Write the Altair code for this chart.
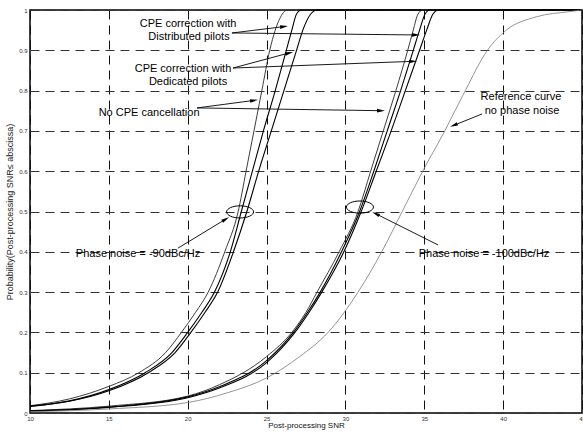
import math
import altair as alt
import pandas as pd

# ---------------- data ----------------
# Phase noise = -90 dBc/Hz
snr_nocpe_90 = [10, 12.5, 15, 16.9, 18.6, 19.6, 20.5, 21.3, 22.35, 23.2, 23.7, 24.2, 24.7, 25.2, 25.55, 26.0, 26.3, 45]
p_nocpe_90 = [0.018, 0.035, 0.066, 0.1, 0.15, 0.2, 0.25, 0.3, 0.4, 0.5, 0.6, 0.7, 0.8, 0.9, 0.95, 0.99, 1.0, 1.0]

snr_dist_90 = [10, 12.5, 15, 17.3, 19.0, 20.0, 20.9, 21.7, 22.7, 23.4, 24.1, 24.8, 25.55, 26.25, 26.6, 26.9, 27.2, 45]
p_dist_90 = [0.017, 0.03, 0.058, 0.1, 0.15, 0.2, 0.25, 0.3, 0.4, 0.5, 0.6, 0.7, 0.8, 0.9, 0.95, 0.99, 1.0, 1.0]

snr_ded_90 = [10, 12.5, 15, 17.5, 19.2, 20.2, 21.1, 21.9, 22.9, 23.75, 24.5, 25.3, 26.1, 26.9, 27.3, 27.8, 28.2, 45]
p_ded_90 = [0.016, 0.029, 0.055, 0.1, 0.15, 0.2, 0.25, 0.3, 0.4, 0.5, 0.6, 0.7, 0.8, 0.9, 0.95, 0.99, 1.0, 1.0]

# Phase noise = -100 dBc/Hz
snr_nocpe_100 = [10, 15, 20, 22, 25, 26.6, 27.5, 28.2, 29.6, 30.8, 31.6, 32.4, 33.2, 33.95, 34.3, 34.6, 34.9, 45]
p_nocpe_100 = [0.006, 0.017, 0.042, 0.07, 0.14, 0.2, 0.25, 0.3, 0.4, 0.5, 0.6, 0.7, 0.8, 0.9, 0.95, 0.99, 1.0, 1.0]

snr_dist_100 = [10, 15, 20, 22, 25, 26.7, 27.6, 28.4, 29.75, 30.9, 31.8, 32.65, 33.5, 34.3, 34.7, 35.05, 35.35, 45]
p_dist_100 = [0.005, 0.015, 0.04, 0.065, 0.13, 0.2, 0.25, 0.3, 0.4, 0.5, 0.6, 0.7, 0.8, 0.9, 0.95, 0.99, 1.0, 1.0]

snr_ded_100 = [10, 15, 20, 22, 25, 26.8, 27.7, 28.5, 29.9, 31.0, 31.95, 32.9, 33.8, 34.7, 35.15, 35.55, 35.9, 45]
p_ded_100 = [0.005, 0.014, 0.038, 0.062, 0.125, 0.2, 0.25, 0.3, 0.4, 0.5, 0.6, 0.7, 0.8, 0.9, 0.95, 0.99, 1.0, 1.0]

# Reference curve, no phase noise
snr_ref = [10, 15, 20, 22.5, 25, 27.1, 28.9, 30.8, 32.3, 33.6, 34.9, 36.3, 37.6, 39.0, 40.2, 42.1, 44.2, 45]
p_ref = [0.003, 0.01, 0.026, 0.05, 0.087, 0.14, 0.2, 0.3, 0.4, 0.5, 0.6, 0.7, 0.8, 0.9, 0.95, 0.983, 0.996, 1.0]

x_ticks = [10, 15, 20, 25, 30, 35, 40, 45]
y_ticks = [0, 0.1, 0.2, 0.3, 0.4, 0.5, 0.6, 0.7, 0.8, 0.9, 1.0]

# annotation texts (data coordinates)
label_text = ["CPE correction with", "Distributed pilots", "CPE correction with", "Dedicated pilots",
              "No CPE cancellation", "Reference curve", "no phase noise",
              "Phase noise = -90dBc/Hz", "Phase noise = -100dBc/Hz"]
label_x = [20.02, 20.08, 19.70, 20.02, 17.55, 41.13, 41.2, 16.85, 38.79]
label_y = [0.965, 0.933, 0.854, 0.821, 0.744, 0.784, 0.749, 0.395, 0.395]

# arrows: start -> tip (data coordinates)
arrow_x1 = [22.81, 22.81, 22.87, 22.87, 20.59, 20.59, 38.66, 19.38, 35.87]
arrow_y1 = [0.943, 0.943, 0.856, 0.856, 0.757, 0.757, 0.742, 0.409, 0.417]
arrow_x2 = [26.36, 34.73, 26.68, 34.54, 24.46, 32.51, 36.63, 22.62, 31.69]
arrow_y2 = [0.960, 0.938, 0.896, 0.873, 0.777, 0.750, 0.710, 0.486, 0.499]

# ellipses marking the -90 / -100 groups
ell_x = [23.32, 30.92]
ell_y = [0.499, 0.511]

# ---------------- tables ----------------
W, H = 552, 403
XMIN, XMAX = 10, 45
px_x = W / (XMAX - XMIN)
px_y = H / 1.0

curves = [
    ("nocpe90", snr_nocpe_90, p_nocpe_90, "thin"),
    ("dist90", snr_dist_90, p_dist_90, "black"),
    ("ded90", snr_ded_90, p_ded_90, "black"),
    ("nocpe100", snr_nocpe_100, p_nocpe_100, "thin"),
    ("dist100", snr_dist_100, p_dist_100, "black"),
    ("ded100", snr_ded_100, p_ded_100, "black"),
    ("ref", snr_ref, p_ref, "ref"),
]
rows = []
for name, xs, ys, style in curves:
    for i, (x, y) in enumerate(zip(xs, ys)):
        rows.append({"series": name, "style": style, "snr": x, "prob": y, "ord": i})
df = pd.DataFrame(rows)

df_lab = pd.DataFrame({"x": label_x, "y": label_y, "t": label_text})

arows = []
for x1, y1, x2, y2 in zip(arrow_x1, arrow_y1, arrow_x2, arrow_y2):
    dx = (x2 - x1) * px_x
    dy = -(y2 - y1) * px_y
    L = math.hypot(dx, dy)
    ang = math.degrees(math.atan2(dy, dx)) % 360
    hx = x2 - (dx / L) * 4 / px_x
    hy = y2 + (dy / L) * 4 / px_y
    arows.append({"x1": x1, "y1": y1, "x2": x2, "y2": y2, "hx": hx, "hy": hy, "ang": ang})
df_arr = pd.DataFrame(arows)
df_ell = pd.DataFrame({"x": ell_x, "y": ell_y})

FONT = "Liberation Sans"
xscale = alt.Scale(domain=[XMIN, XMAX], nice=False, zero=False)
yscale = alt.Scale(domain=[0, 1], nice=False)
XTITLE = "Post-processing SNR"
YTITLE = "Probability(Post-processing SNR≤ abscissa)"

xaxis = alt.Axis(values=x_ticks, format="d", labelFontSize=6, labelColor="#333",
                 labelFlush=False, labelPadding=2, ticks=False, domain=False,
                 grid=True, gridDash=[9, 6], gridColor="#111", gridWidth=1,
                 titleFontSize=8, titleFontWeight="normal", titlePadding=0,
                 titleColor="#111", labelFont=FONT, titleFont=FONT)
yaxis = alt.Axis(values=y_ticks, format=".1~f", labelFontSize=6, labelColor="#333",
                 labelFlush=False, labelPadding=3, ticks=False, domain=False,
                 grid=True, gridDash=[9, 6], gridColor="#333", gridWidth=1,
                 titleFontSize=9, titleFontWeight="normal", titlePadding=4,
                 titleColor="#222", labelFont=FONT, titleFont=FONT)


def X(field):
    return alt.X(field, type="quantitative", scale=xscale, axis=xaxis, title=XTITLE)


def Y(field):
    return alt.Y(field, type="quantitative", scale=yscale, axis=yaxis, title=YTITLE)


lines = alt.Chart(df).mark_line(interpolate="monotone").encode(
    x=X("snr"),
    y=Y("prob"),
    detail="series:N",
    order="ord:Q",
    color=alt.Color("style:N", scale=alt.Scale(domain=["black", "thin", "ref"],
                                               range=["#000000", "#333333", "#7a7a7a"]), legend=None),
    strokeWidth=alt.StrokeWidth("style:N", scale=alt.Scale(domain=["black", "thin", "ref"],
                                                           range=[1.1, 0.8, 1.0]), legend=None),
)

texts = alt.Chart(df_lab).mark_text(font=FONT, fontSize=11, align="center", baseline="middle",
                                    color="#000").encode(
    x=X("x"),
    y=Y("y"),
    text="t:N",
)

rules = alt.Chart(df_arr).mark_rule(color="#000", strokeWidth=0.9).encode(
    x=X("x1"),
    y=Y("y1"),
    x2="hx:Q",
    y2="hy:Q",
)

heads = alt.Chart(df_arr).mark_point(shape="M 1 0 L -1 -0.45 L -1 0.45 Z", filled=True,
                                     size=64, color="#000", opacity=1).encode(
    x=X("hx"),
    y=Y("hy"),
    angle=alt.Angle("ang:Q", scale=None),
)

ellipses = alt.Chart(df_ell).mark_point(
    shape="M -1 0 A 1 0.45 0 1 1 1 0 A 1 0.45 0 1 1 -1 0 Z",
    filled=False, size=729, color="#000", strokeWidth=1, opacity=1).encode(
    x=X("x"),
    y=Y("y"),
)

chart = alt.layer(lines, ellipses, rules, heads, texts).properties(
    width=W, height=H,
    autosize=alt.AutoSizeParams(type="none"),
    padding={"left": 30, "top": 10, "right": 1, "bottom": 24},
    background="white",
).configure_view(stroke="#000", strokeWidth=1.5)

chart.save("out.html", embed_options={"renderer": "svg", "actions": False})
